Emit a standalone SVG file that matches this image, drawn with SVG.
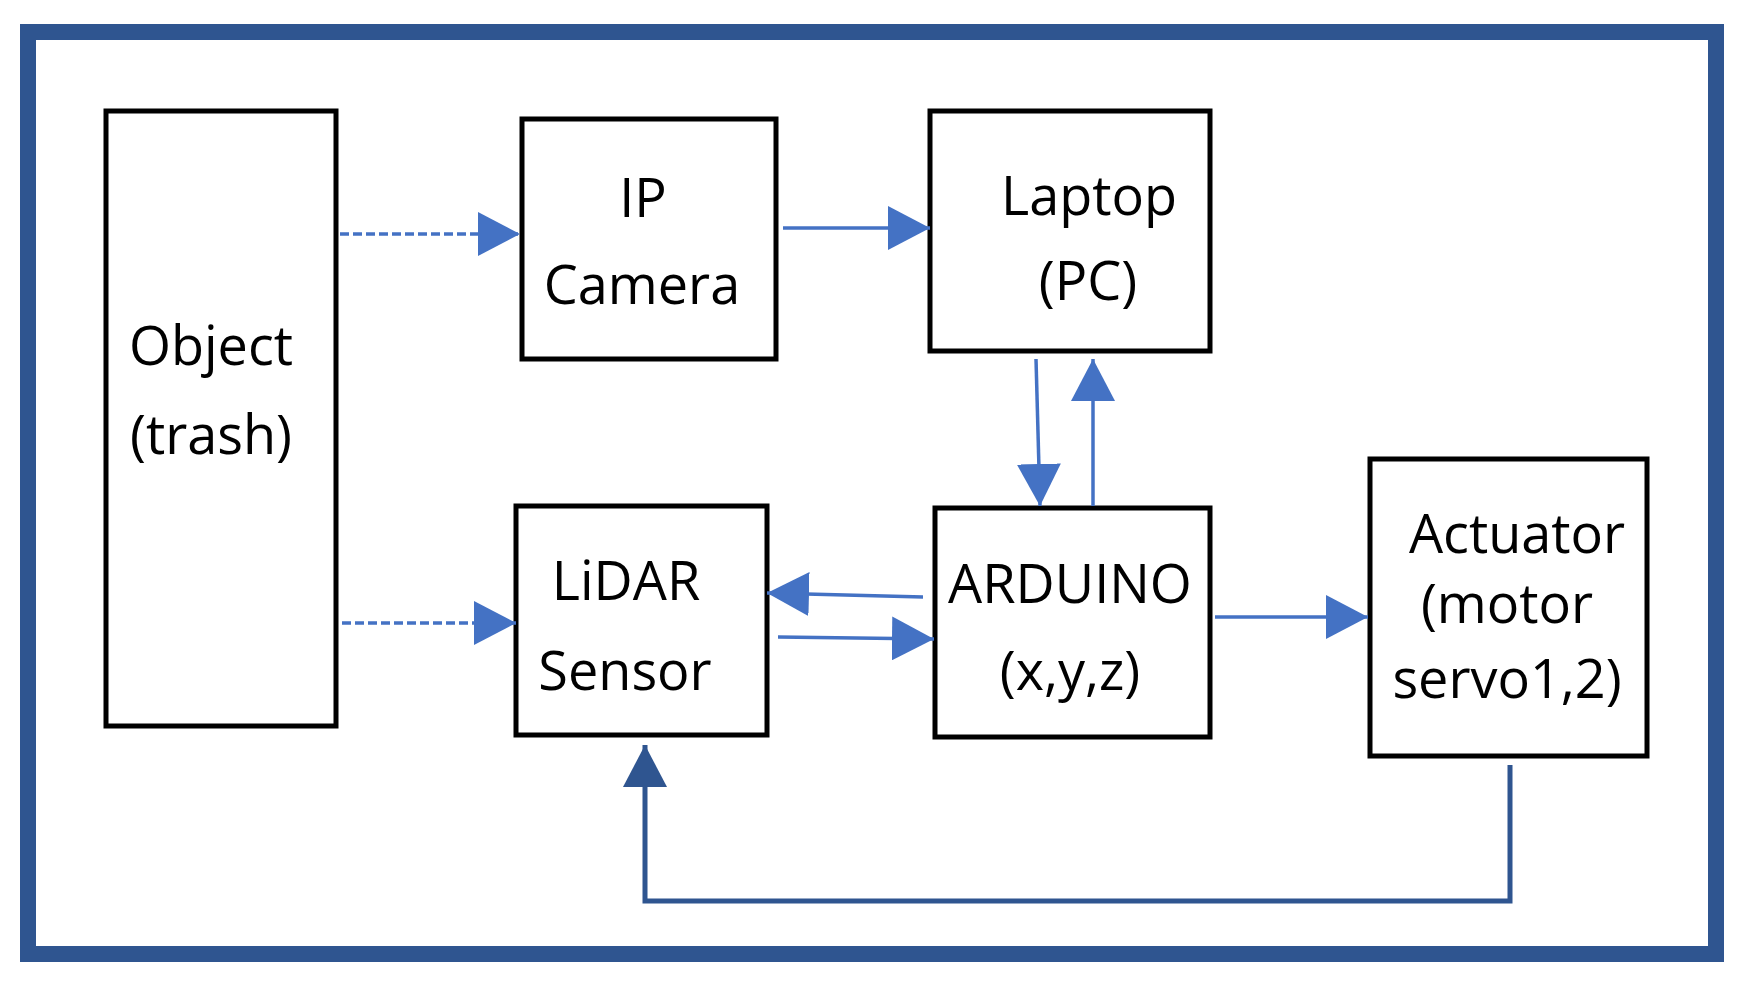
<svg xmlns="http://www.w3.org/2000/svg" width="1744" height="982" viewBox="0 0 1744 982">
<style>
.n{fill:#fff;stroke:#000;stroke-width:5}
.t{font-family:"Open Sans","Liberation Sans",sans-serif;font-size:54px;fill:#000;text-anchor:middle}
.c{fill:none;stroke:#4472C4;stroke-width:3.5}
.d{stroke-dasharray:9 4}
</style>
<defs>
<marker id="a" markerUnits="userSpaceOnUse" markerWidth="42" markerHeight="44" viewBox="0 0 42 44" refX="42" refY="22" orient="auto"><path d="M0,0L42,22L0,44z" fill="#4472C4"/></marker>
<marker id="b" markerUnits="userSpaceOnUse" markerWidth="42" markerHeight="44" viewBox="0 0 42 44" refX="42" refY="22" orient="auto"><path d="M0,0L42,22L0,44z" fill="#2F5590"/></marker>
</defs>
<rect x="0" y="0" width="1744" height="982" fill="#fff"/>
<rect x="28" y="32" width="1688" height="922" fill="none" stroke="#2F5590" stroke-width="16"/>
<g id="object"><rect class="n" x="106" y="111" width="230" height="615"/><text class="t" x="211" y="365">Object</text><text class="t" x="211" y="454">(trash)</text></g>
<g id="ipcamera"><rect class="n" x="522" y="119" width="254" height="240"/><text class="t" x="643" y="217">IP</text><text class="t" x="642" y="304">Camera</text></g>
<g id="laptop"><rect class="n" x="930" y="111" width="280" height="240"/><text class="t" x="1089" y="215">Laptop</text><text class="t" x="1088" y="300">(PC)</text></g>
<g id="lidar"><rect class="n" x="516" y="506" width="251" height="229"/><text class="t" x="626" y="600">LiDAR</text><text class="t" x="625" y="690">Sensor</text></g>
<g id="arduino"><rect class="n" x="935" y="508" width="275" height="229"/><text class="t" x="1070" y="603">ARDUINO</text><text class="t" x="1070" y="690">(x,y,z)</text></g>
<g id="actuator"><rect class="n" x="1370" y="459" width="277" height="297"/><text class="t" x="1517" y="553">Actuator</text><text class="t" x="1507" y="623">(motor</text><text class="t" x="1507" y="698">servo1,2)</text></g>
<g id="connectors">
<path class="c d" d="M340,234H520" marker-end="url(#a)"/>
<path class="c d" d="M342,623H516" marker-end="url(#a)"/>
<path class="c" d="M783,228H930" marker-end="url(#a)"/>
<path class="c" d="M1036,359L1040,506" marker-end="url(#a)"/>
<path class="c" d="M1093,506V359" marker-end="url(#a)"/>
<path class="c" d="M923,597L767,593" marker-end="url(#a)"/>
<path class="c" d="M778,637L934,639" marker-end="url(#a)"/>
<path class="c" d="M1215,617H1368" marker-end="url(#a)"/>
<path d="M1510,765V901H645V745" fill="none" stroke="#2F5590" stroke-width="5" marker-end="url(#b)"/>
</g>
</svg>
